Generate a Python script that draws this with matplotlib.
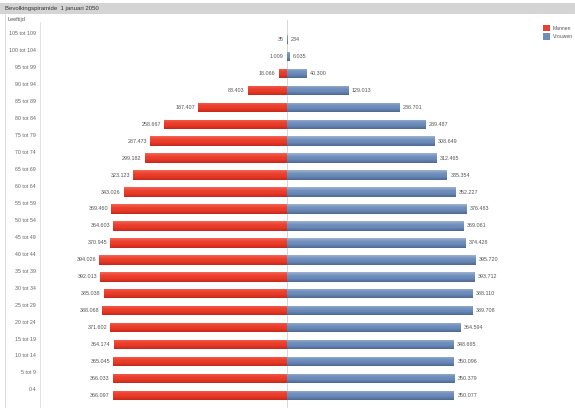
import matplotlib
matplotlib.use("Agg")
import matplotlib.pyplot as plt
import numpy as np
from matplotlib.transforms import blended_transform_factory
from matplotlib.lines import Line2D
from matplotlib.patches import Rectangle

plt.rcParams['font.family'] = ['Liberation Sans', 'DejaVu Sans']

title = "Bevolkingspiramide  1 januari 2050"
axis_title = "Leeftijd"
categories = ["105 tot 109", "100 tot 104", "95 tot 99", "90 tot 94", "85 tot 89",
              "80 tot 84", "75 tot 79", "70 tot 74", "65 tot 69", "60 tot 64",
              "55 tot 59", "50 tot 54", "45 tot 49", "40 tot 44", "35 tot 39",
              "30 tot 34", "25 tot 29", "20 tot 24", "15 tot 19", "10 tot 14",
              "5 tot 9", "0-4"]
mannen = [35, 1009, 18066, 83403, 187407, 258667, 287473, 299182, 323123, 343026,
          369460, 364603, 370945, 394026, 392013, 385038, 388068, 371602, 364174,
          365045, 366033, 366097]
vrouwen = [234, 6035, 40300, 129013, 236701, 289487, 308649, 312465, 335354, 352227,
           376483, 369061, 374428, 395720, 393712, 388110, 389708, 364594, 348665,
           350096, 350379, 350077]
legend_labels = ["Mannen", "Vrouwen"]


def fmt(v):
    return f"{v:,}".replace(",", ".")


W, H = 575, 408
fig = plt.figure(figsize=(W / 100, H / 100), dpi=100)

# title bar
fig.patches.append(Rectangle((0, 1 - 14 / H), 1, 11 / H, transform=fig.transFigure,
                             facecolor="#d4d4d4", edgecolor="none", zorder=0))
fig.text(5 / W, 1 - 8.7 / H, title, fontsize=4.3, color="#333333", va="center", ha="left")
fig.text(7 / W, 1 - 19 / H, axis_title, fontsize=4.0, color="#555555", va="center", ha="left")

# border lines
fig.lines.append(Line2D([5 / W, 5 / W], [0, 1 - 14 / H], transform=fig.transFigure,
                        color="#d8d8d8", lw=0.6))
fig.lines.append(Line2D([39.5 / W, 39.5 / W], [0, 1 - 22 / H], transform=fig.transFigure,
                        color="#dcdcdc", lw=0.6))

ax = fig.add_axes([40 / W, 0, 535 / W, (H - 16) / H])
ax.set_axis_off()
n = len(categories)
y = np.arange(n)
ax.set_ylim(21.74, -1.386)
scale = 0.000477
ax.set_xlim(-247.3 / scale, 287.7 / scale)

ax.axvline(0, color="#d0d0d0", lw=0.6, zorder=1, ymax=1 - 4 / 392)

red_grad = np.array([[0.96, 0.40, 0.33], [0.93, 0.26, 0.19], [0.90, 0.22, 0.15], [0.78, 0.16, 0.10]])
blue_grad = np.array([[0.62, 0.71, 0.83], [0.45, 0.57, 0.74], [0.41, 0.53, 0.71], [0.30, 0.41, 0.58]])

bh = 0.56
bars_m = ax.barh(y, [-v for v in mannen], height=bh, color="#e8402f", zorder=2, linewidth=0)
bars_v = ax.barh(y, vrouwen, height=bh, color="#6f8dbb", zorder=2, linewidth=0)


def add_gradient(bars, grad):
    g = np.linspace(0, 1, 40)
    cols = np.array([np.interp(g, np.linspace(0, 1, len(grad)), grad[:, c]) for c in range(3)]).T
    img = cols[:, None, :]
    for b in bars:
        x0, y0 = b.get_x(), b.get_y()
        w, h = b.get_width(), b.get_height()
        im = ax.imshow(img, extent=[x0, x0 + w, y0 + h, y0], aspect="auto",
                       zorder=3, interpolation="bilinear")
        im.set_clip_path(b)


add_gradient(bars_m, red_grad)
add_gradient(bars_v, blue_grad)
ax.set_xlim(-247.3 / scale, 287.7 / scale)
ax.set_ylim(21.74, -1.386)

for i in range(n):
    ax.annotate(fmt(mannen[i]), (-mannen[i], i), xytext=(-2.2, 0), textcoords="offset points",
                ha="right", va="center", fontsize=3.9, color="#555555")
    ax.annotate(fmt(vrouwen[i]), (vrouwen[i], i), xytext=(2.2, 0), textcoords="offset points",
                ha="left", va="center", fontsize=3.9, color="#555555")

tr = blended_transform_factory(fig.transFigure, ax.transData)
for i, c in enumerate(categories):
    ax.text(36 / W, i - 0.33, c, transform=tr, ha="right", va="center",
            fontsize=3.8, color="#666666")

# legend
leg_cols = ["#e8402f", "#6f8dbb"]
for k, (lab, col) in enumerate(zip(legend_labels, leg_cols)):
    yc = 1 - (28 + 8.5 * k) / H
    fig.patches.append(Rectangle((543 / W, yc - 3.3 / H), 6.5 / W, 6.6 / H,
                                 transform=fig.transFigure, facecolor=col, edgecolor="none"))
    fig.text(553 / W, yc, lab, fontsize=3.6, color="#555555", va="center", ha="left")

fig.savefig("out.png", dpi=100)
